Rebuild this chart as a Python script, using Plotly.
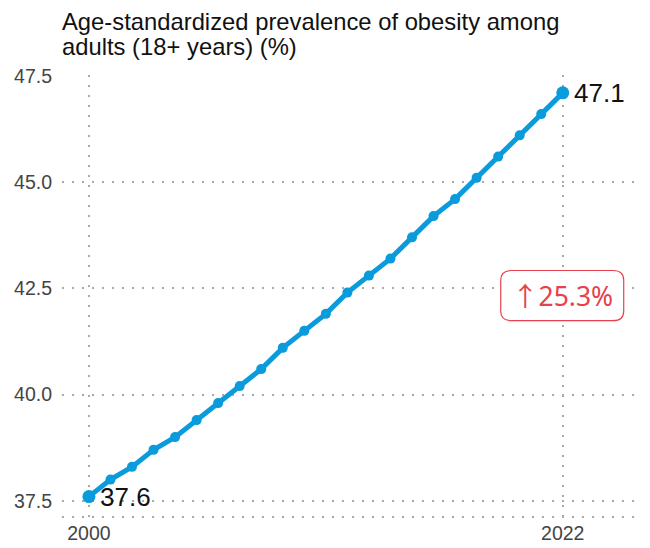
import plotly.graph_objects as go

years = list(range(2000, 2023))
values = [37.6, 38.0, 38.3, 38.7, 39.0, 39.4, 39.8, 40.2, 40.6, 41.1, 41.5, 41.9,
          42.4, 42.8, 43.2, 43.7, 44.2, 44.6, 45.1, 45.6, 46.1, 46.6, 47.1]
title_lines = ["Age-standardized prevalence of obesity among", "adults (18+ years) (%)"]
y_ticks = [37.5, 40.0, 42.5, 45.0, 47.5]
x_ticks = [2000, 2022]
change_pct = (values[-1] / values[0] - 1) * 100

blue = "#0a9bdc"
red = "#e8404c"
grid = "#aaaaaa"

PLOT_TOP, PLOT_H = 75, 442


def page_y(yp):
    return 1 + (PLOT_TOP - yp) / PLOT_H


fig = go.Figure()
fig.add_trace(go.Scatter(
    x=years, y=values, mode="lines+markers",
    line=dict(color=blue, width=5),
    marker=dict(color=blue, size=[13] + [10] * (len(years) - 2) + [13],
                line=dict(width=0), opacity=1),
    hoverinfo="skip", showlegend=False,
))

for xv, yv in [(years[0], values[0]), (years[-1], values[-1])]:
    fig.add_annotation(x=xv, y=yv, text=f"{yv:.1f}", showarrow=False,
                       xanchor="left", yanchor="middle", xshift=9,
                       font=dict(family="Liberation Sans, Arial", size=26, color="#111111"))

# rounded box for change annotation
x0, x1, y0, y1 = 2019.12, 2024.83, 41.74, 42.92
rx, ry = 0.5, 0.23
path = (f"M {x0+rx},{y1} L {x1-rx},{y1} Q {x1},{y1} {x1},{y1-ry} "
        f"L {x1},{y0+ry} Q {x1},{y0} {x1-rx},{y0} L {x0+rx},{y0} "
        f"Q {x0},{y0} {x0},{y0+ry} L {x0},{y1-ry} Q {x0},{y1} {x0+rx},{y1} Z")
fig.add_shape(type="path", path=path, xref="x", yref="y",
              line=dict(color=red, width=1.2), fillcolor="white", layer="above")
fig.add_annotation(x=(x0 + x1) / 2, y=(y0 + y1) / 2,
                   text=f"<span style='font-family:Noto Sans CJK SC'>↑</span>{change_pct:.1f}%",
                   showarrow=False, xanchor="center", yanchor="middle", yshift=1,
                   font=dict(family="Noto Sans, Open Sans", size=26.5, color=red))

for line, yc in zip(title_lines, [22, 46]):
    fig.add_annotation(x=0, y=page_y(yc), xref="paper", yref="paper",
                       text=line, showarrow=False, xanchor="left", yanchor="middle",
                       xshift=-2,
                       font=dict(family="Liberation Sans, Arial", size=23.8, color="#111111"))

fig.update_layout(
    width=650, height=548,
    margin=dict(l=54, r=8, t=67, b=39, autoexpand=False),
    paper_bgcolor="white", plot_bgcolor="white",
    font=dict(family="Liberation Sans, Arial"),
)
fig.update_xaxes(range=[1998.75, 2026.05], tickvals=x_ticks, ticktext=[str(t) for t in x_ticks],
                 showgrid=True, gridcolor=grid, gridwidth=2, griddash="2px,8px",
                 showline=False, zeroline=False, ticks="", automargin=False,
                 tickfont=dict(size=19.5, color="#444444"), ticklabelstandoff=2)
fig.update_yaxes(range=[37.12, 47.52], tickvals=y_ticks, ticktext=[f"{t:.1f}" for t in y_ticks],
                 showgrid=True, gridcolor=grid, gridwidth=2, griddash="2px,8px",
                 showline=False, zeroline=False, ticks="", automargin=False,
                 tickfont=dict(size=19.5, color="#444444"), ticklabelstandoff=9)
fig.add_shape(type="line", xref="paper", yref="paper", x0=0, x1=1, y0=0, y1=0,
              line=dict(color=grid, width=2, dash="2px,8px"), layer="below")

fig.write_html("out.html")
